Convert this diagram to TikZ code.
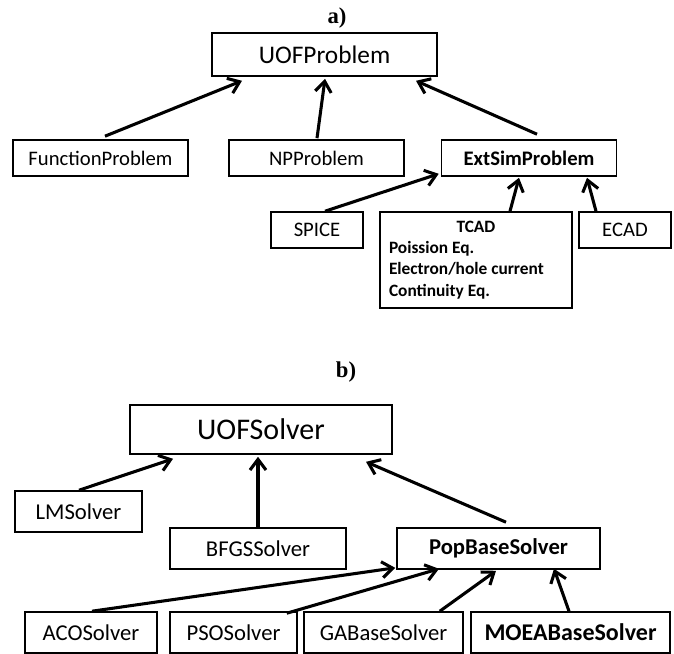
\documentclass[tikz,border=0pt]{standalone}
\usepackage{fontspec}
\setmainfont{Carlito}
\newfontfamily\labelfont{Liberation Serif}
\usepackage{tikz}
\usetikzlibrary{arrows.meta}
\usetikzlibrary{calc}
\newdimen\px \px=0.75pt

\begin{document}
\begin{tikzpicture}[x=0.75pt,y=-0.75pt,
  box/.style={draw,line width=1.2pt,inner sep=0pt,minimum height=36*\px},
  link/.style={-{Straight Barb[length=8pt,width=12pt,line width=2.3pt]},line width=2.3pt}]
\useasboundingbox (0,0) rectangle (674,653);
% a) problems
\node (LA) at (337,18) {\labelfont\bfseries\fontsize{17}{17}\selectfont a)};
\node (UOFP) at (324.5,54.5) [box,minimum width=225*\px,minimum height=43*\px] {\fontsize{19}{19}\selectfont UOFProblem};
\node (FP) at (100.5,158) [box,minimum width=175*\px] {\fontsize{15.5}{16}\selectfont FunctionProblem};
\node (NPP) at (316.5,158) [box,minimum width=175*\px] {\fontsize{15.5}{16}\selectfont NPProblem};
\node (ESP) at (529,158) [box,minimum width=175*\px] {\fontsize{15.5}{16}\selectfont\bfseries ExtSimProblem};
\node (SPICE) at (317,230) [box,minimum width=92*\px] {\fontsize{15.5}{16}\selectfont SPICE};
\node (TCAD) at (476,260) [box,minimum width=192*\px,minimum height=96*\px,text width=174*\px,align=flush left,
  font=\fontsize{13}{16}\selectfont\bfseries]
  {\hfill TCAD\hfill\null\\Poission Eq.\\Electron/hole current\\Continuity Eq.};
\node (ECAD) at (625,230) [box,minimum width=92*\px] {\fontsize{15.5}{16}\selectfont ECAD};
\draw[link] ($(FP.north)+(4.5,-3)$) to ($(UOFP.south)+(-82.5,4)$);
\draw[link] ($(NPP.north)+(0.5,-1)$) to ($(UOFP.south)+(0.5,2)$);
\draw[link] ($(ESP.north)+(8,-5)$) to ($(UOFP.south)+(91.5,4)$);
\draw[link] ($(SPICE.north)+(8,0)$) to ($(ESP.south west)+(-2,-3)$);
\draw[link] ($(TCAD.north)+(34,0)$) to ($(ESP.south)+(-10,1)$);
\draw[link] ($(ECAD.north)+(-29,0)$) to ($(ESP.south)+(58,1)$);
% b) solvers
\node (LB) at (346,372) {\labelfont\bfseries\fontsize{17}{17}\selectfont b)};
\node (UOFS) at (261,429.5) [box,minimum width=262*\px,minimum height=49*\px] {\fontsize{22.5}{23}\selectfont UOFSolver};
\node (LM) at (78.5,511.5) [box,minimum width=127*\px,minimum height=41*\px] {\fontsize{17}{17}\selectfont LMSolver};
\node (BFGS) at (258,548.5) [box,minimum width=176*\px,minimum height=41*\px] {\fontsize{17}{17}\selectfont BFGSSolver};
\node (POP) at (498.5,548.5) [box,minimum width=203*\px,minimum height=41*\px] {\fontsize{17}{17}\selectfont\bfseries PopBaseSolver};
\node (ACO) at (91,632.5) [box,minimum width=132*\px,minimum height=41*\px] {\fontsize{17}{17}\selectfont ACOSolver};
\node (PSO) at (233.5,632.5) [box,minimum width=127*\px,minimum height=41*\px] {\fontsize{17}{17}\selectfont PSOSolver};
\node (GA) at (383.5,632.5) [box,minimum width=159*\px,minimum height=41*\px] {\fontsize{17}{17}\selectfont GABaseSolver};
\node (MOEA) at (570.5,632.5) [box,minimum width=199*\px,minimum height=41*\px] {\fontsize{18}{18}\selectfont\bfseries MOEABaseSolver};
\draw[link] ($(LM.north)+(0.5,0)$) to ($(UOFS.south)+(-88,4)$);
\draw[link] ($(BFGS.north)+(0,0)$) to ($(UOFS.south)+(-3,2)$);
\draw[link] ($(POP.north)+(7.5,-5)$) to ($(UOFS.south)+(105,7)$);
\draw[link] ($(ACO.north)+(1,0)$) to ($(POP.south west)+(-1,-2)$);
\draw[link] ($(PSO.north east)+(-11,2)$) to ($(POP.south)+(-59.5,-1)$);
\draw[link] ($(GA.north east)+(-24,0)$) to ($(POP.south)+(-2.5,1)$);
\draw[link] ($(MOEA.north)+(-1.5,0)$) to ($(POP.south)+(55.5,-1)$);
\end{tikzpicture}
\end{document}
